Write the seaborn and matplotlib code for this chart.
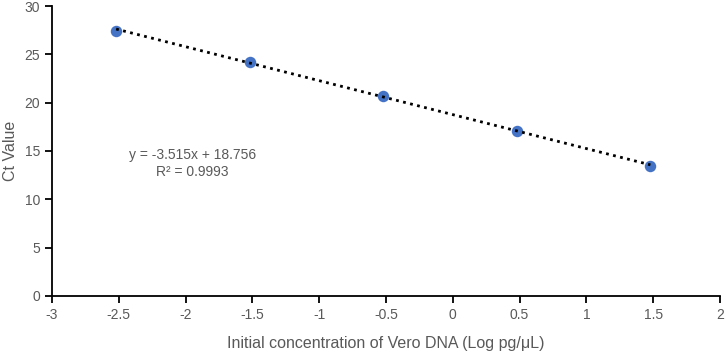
import seaborn as sns
import matplotlib.pyplot as plt
import pandas as pd

# 数据
log_conc = [-2.52, -1.52, -0.52, 0.48, 1.48]
ct_value = [27.45, 24.25, 20.7, 17.1, 13.45]
x_ticks = [-3, -2.5, -2, -1.5, -1, -0.5, 0, 0.5, 1, 1.5, 2]
y_ticks = [0, 5, 10, 15, 20, 25, 30]

df = pd.DataFrame({'x': log_conc, 'y': ct_value})

sns.set_style('white')
plt.rcParams['font.family'] = ['Liberation Sans', 'DejaVu Sans']

fig = plt.figure(figsize=(7.26, 3.56), dpi=100)
ax = fig.add_axes([0.0716, 0.169, 0.92, 0.814])

sns.regplot(data=df, x='x', y='y', ci=None, ax=ax,
            scatter_kws=dict(color='#4472C4', s=68, alpha=1, linewidths=0, zorder=2),
            line_kws=dict(color='black', linestyle=(0, (1, 1.6)), lw=2, zorder=3))

ax.set_xlim(-3, 2)
ax.set_ylim(0, 30)
ax.set_xticks(x_ticks)
ax.set_xticklabels([f'{t:g}' for t in x_ticks])
ax.set_yticks(y_ticks)

# 回归方程
ax.text(-1.95, 14.6, 'y = -3.515x + 18.756', ha='center', va='center', fontsize=10, color='#595959')
ax.text(-1.95, 12.8, 'R² = 0.9993', ha='center', va='center', fontsize=10, color='#595959')

ax.set_xlabel('Initial concentration of Vero DNA (Log pg/μL)', fontsize=11.5, color='#595959', labelpad=10)
ax.set_ylabel('Ct Value', fontsize=11.5, color='#595959', labelpad=5)

sns.despine(ax=ax)
for s in ['left', 'bottom']:
    ax.spines[s].set_color('black')
    ax.spines[s].set_linewidth(1.3)
ax.tick_params(axis='both', direction='out', length=5, width=1.3, color='black',
               labelsize=10, labelcolor='#595959', bottom=True, left=True)

fig.savefig('out.png', dpi=100)
